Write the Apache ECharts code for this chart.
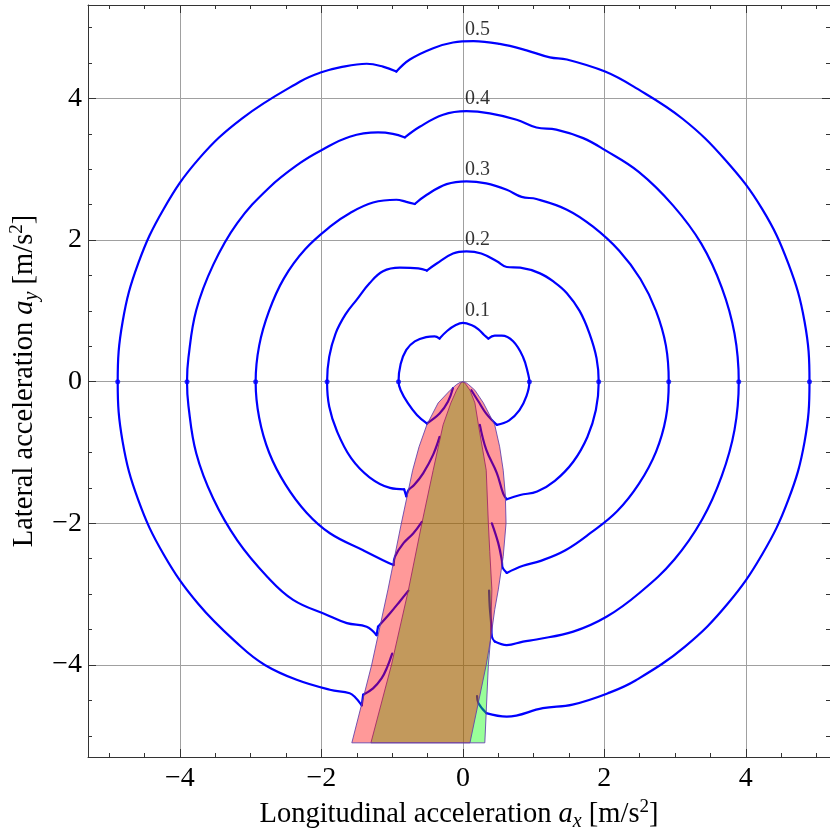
<!DOCTYPE html>
<html>
<head>
<meta charset="utf-8">
<script src="https://cdn.jsdelivr.net/npm/echarts@6/dist/echarts.min.js"></script>
<style>
  html, body { margin: 0; padding: 0; background: #fff; }
  #chart { width: 830px; height: 834px; }
</style>
</head>
<body>
<div id="chart"></div>
<script>
// Axis extents and tick values (m/s^2)
const X_RANGE = [-5.30, 5.19];
const Y_RANGE = [-5.30, 5.32];
const MAJOR_TICKS = [-4, -2, 0, 2, 4];
const MINOR_TICKS = [-5, -4.5, -3.5, -3, -2.5, -1.5, -1, -0.5, 0.5, 1, 1.5, 2.5, 3, 3.5, 4.5, 5];

// Contour levels and the height of each contour's top (where its label sits)
const LEVELS = [0.1, 0.2, 0.3, 0.4, 0.5];
const LEVEL_TOPS = [0.83, 1.84, 2.83, 3.82, 4.80];

// Contour polylines [a_x, a_y], from the left cone edge round to the right cone edge
const contour01 = [[-0.14,-0.09],[-0.21,-0.28],[-0.33,-0.45],[-0.51,-0.59],[-0.65,-0.47],[-0.78,-0.30],[-0.88,-0.12],[-0.91,0],[-0.88,0.25],[-0.80,0.45],[-0.68,0.57],[-0.52,0.63],[-0.40,0.64],[-0.33,0.61],[-0.22,0.72],[-0.10,0.80],[0.00,0.83],[0.12,0.80],[0.22,0.74],[0.30,0.66],[0.36,0.61],[0.45,0.65],[0.55,0.65],[0.71,0.57],[0.85,0.35],[0.92,0.12],[0.94,0],[0.90,-0.20],[0.80,-0.40],[0.65,-0.55],[0.48,-0.61],[0.33,-0.45],[0.22,-0.28],[0.12,-0.12]];

const contour02 = [[-0.33,-0.78],[-0.42,-1.03],[-0.56,-1.29],[-0.69,-1.46],[-0.77,-1.53],[-0.80,-1.62],[-0.83,-1.52],[-1.03,-1.50],[-1.32,-1.35],[-1.58,-1.08],[-1.78,-0.70],[-1.89,-0.35],[-1.92,0],[-1.89,0.35],[-1.80,0.68],[-1.66,0.95],[-1.50,1.16],[-1.32,1.39],[-1.13,1.56],[-0.89,1.61],[-0.63,1.60],[-0.51,1.57],[-0.37,1.67],[-0.14,1.81],[0.05,1.84],[0.26,1.81],[0.48,1.70],[0.62,1.62],[0.81,1.61],[1.09,1.53],[1.30,1.40],[1.47,1.25],[1.65,1.00],[1.79,0.68],[1.89,0.33],[1.92,0],[1.88,-0.40],[1.76,-0.78],[1.56,-1.13],[1.30,-1.40],[1.05,-1.55],[0.81,-1.60],[0.62,-1.66],[0.57,-1.58],[0.48,-1.29],[0.33,-0.96],[0.24,-0.61]];

const contour03 = [[-0.58,-1.98],[-0.70,-2.14],[-0.84,-2.28],[-0.96,-2.47],[-0.98,-2.59],[-1.13,-2.52],[-1.41,-2.38],[-1.88,-2.14],[-2.21,-1.85],[-2.51,-1.45],[-2.74,-1.00],[-2.88,-0.51],[-2.93,0],[-2.88,0.51],[-2.74,1.00],[-2.53,1.46],[-2.23,1.87],[-1.85,2.21],[-1.60,2.38],[-1.27,2.53],[-0.94,2.57],[-0.80,2.54],[-0.68,2.51],[-0.51,2.64],[-0.23,2.79],[0.05,2.83],[0.33,2.80],[0.62,2.71],[0.83,2.61],[1.04,2.58],[1.47,2.43],[1.84,2.19],[2.21,1.85],[2.51,1.45],[2.73,1.00],[2.87,0.51],[2.91,0],[2.87,-0.51],[2.73,-0.99],[2.49,-1.44],[2.18,-1.83],[1.80,-2.14],[1.45,-2.38],[1.10,-2.53],[0.85,-2.60],[0.62,-2.70],[0.56,-2.62],[0.55,-2.52],[0.50,-2.28],[0.41,-2.00]];

const contour04 = [[-0.77,-2.95],[-0.89,-3.10],[-1.03,-3.27],[-1.20,-3.46],[-1.22,-3.58],[-1.36,-3.46],[-1.64,-3.41],[-1.93,-3.29],[-2.40,-3.08],[-2.76,-2.76],[-3.19,-2.24],[-3.53,-1.65],[-3.77,-1.01],[-3.88,-0.34],[-3.90,0],[-3.88,0.34],[-3.77,1.01],[-3.53,1.65],[-3.19,2.24],[-2.74,2.74],[-2.30,3.09],[-2.00,3.27],[-1.60,3.46],[-1.20,3.52],[-0.99,3.50],[-0.82,3.45],[-0.61,3.60],[-0.28,3.77],[0.05,3.82],[0.38,3.79],[0.76,3.70],[1.04,3.59],[1.32,3.56],[1.70,3.44],[2.01,3.27],[2.49,2.96],[2.97,2.49],[3.37,1.95],[3.66,1.33],[3.84,0.68],[3.90,0],[3.84,-0.68],[3.66,-1.33],[3.38,-1.95],[2.99,-2.51],[2.50,-2.98],[2.03,-3.32],[1.56,-3.53],[1.04,-3.64],[0.85,-3.67],[0.62,-3.72],[0.45,-3.67],[0.41,-3.60],[0.40,-3.42],[0.38,-3.18],[0.37,-2.95]];

const contour05 = [[-1.00,-3.84],[-1.07,-4.03],[-1.15,-4.19],[-1.27,-4.33],[-1.41,-4.42],[-1.43,-4.57],[-1.53,-4.45],[-1.60,-4.40],[-1.88,-4.35],[-2.35,-4.21],[-2.80,-4.00],[-3.14,-3.74],[-3.74,-3.14],[-4.23,-2.44],[-4.59,-1.67],[-4.81,-0.85],[-4.88,0],[-4.81,0.85],[-4.59,1.67],[-4.23,2.44],[-3.74,3.14],[-3.12,3.72],[-2.30,4.24],[-2.00,4.37],[-1.74,4.44],[-1.36,4.49],[-1.13,4.45],[-0.94,4.38],[-0.75,4.55],[-0.42,4.71],[-0.14,4.79],[0.15,4.81],[0.52,4.77],[0.90,4.68],[1.23,4.58],[1.47,4.55],[2.01,4.38],[2.41,4.17],[3.11,3.71],[3.72,3.12],[4.23,2.44],[4.60,1.67],[4.83,0.85],[4.90,0],[4.83,-0.85],[4.60,-1.67],[4.23,-2.44],[3.74,-3.14],[3.14,-3.74],[2.44,-4.22],[2.05,-4.40],[1.55,-4.56],[1.13,-4.61],[0.62,-4.73],[0.33,-4.68],[0.22,-4.54],[0.20,-4.44]];

const CONTOURS = [contour01, contour02, contour03, contour04, contour05];

// Points where each contour crosses a_y = 0
const crossings = [[-0.91,0],[-1.92,0],[-2.93,0],[-3.90,0],[-4.88,0],[0.94,0],[1.92,0],[2.91,0],[3.90,0],[4.90,0]];

// Outer (red) and inner (green) regions
const redRegion = [[0,0],[-0.04,-0.01],[-0.09,-0.04],[-0.18,-0.12],[-0.35,-0.30],[-0.51,-0.61],[-0.62,-0.92],[-0.71,-1.25],[-0.87,-2.00],[-1.06,-2.94],[-1.29,-4.00],[-1.57,-5.10],[0.10,-5.10],[0.33,-4.00],[0.39,-3.65],[0.45,-3.22],[0.50,-2.94],[0.57,-2.47],[0.61,-2.00],[0.60,-1.60],[0.57,-1.25],[0.52,-0.92],[0.45,-0.61],[0.29,-0.30],[0.17,-0.12],[0.08,-0.04],[0.04,-0.01]];

const greenRegion = [[0,0],[-0.03,-0.02],[-0.09,-0.12],[-0.17,-0.30],[-0.28,-0.61],[-0.42,-1.25],[-0.58,-2.00],[-0.77,-2.94],[-1.01,-4.00],[-1.30,-5.10],[0.31,-5.10],[0.36,-4.00],[0.39,-3.65],[0.41,-2.94],[0.38,-2.40],[0.36,-2.00],[0.33,-1.25],[0.22,-0.61],[0.17,-0.30],[0.10,-0.12],[0.03,-0.02]];

const SERIF = '"Liberation Serif", "DejaVu Serif", serif';
const FRAME = '#333333';
const GRID_COLOR = '#a0a0a0';

const fmtTick = v => (v < 0 ? '\u2212' + Math.abs(v) : String(v));

// Split a polyline at its sharp corners so each piece can be drawn smoothed
// while the corners themselves stay crisp.
function splitAtCorners(pts, maxTurnDeg) {
  const pieces = [];
  let start = 0;
  for (let i = 1; i < pts.length - 1; i++) {
    const a1 = Math.atan2(pts[i][1] - pts[i - 1][1], pts[i][0] - pts[i - 1][0]);
    const a2 = Math.atan2(pts[i + 1][1] - pts[i][1], pts[i + 1][0] - pts[i][0]);
    let d = Math.abs(a2 - a1) * 180 / Math.PI;
    if (d > 180) d = 360 - d;
    if (d > maxTurnDeg) {
      pieces.push(pts.slice(start, i + 1));
      start = i;
    }
  }
  pieces.push(pts.slice(start));
  return pieces;
}

const nameRich = {
  t: { fontFamily: SERIF, fontSize: 28.5, color: '#000', lineHeight: 34 },
  i: { fontFamily: SERIF, fontSize: 28.5, fontStyle: 'italic', color: '#000', lineHeight: 34 },
  sb: { fontFamily: SERIF, fontSize: 20, fontStyle: 'italic', color: '#000', verticalAlign: 'bottom', lineHeight: 23 },
  sp: { fontFamily: SERIF, fontSize: 19, color: '#000', verticalAlign: 'top', lineHeight: 21 }
};

function frameAxis(opts) {
  return Object.assign({
    type: 'value',
    axisLine: { show: true, onZero: false, lineStyle: { color: FRAME, width: 1 } },
    axisTick: { show: true, inside: true, length: 8, customValues: MAJOR_TICKS, lineStyle: { color: FRAME, width: 1 } },
    axisLabel: { show: false },
    splitLine: { show: false }
  }, opts);
}

function minorAxis(opts) {
  return Object.assign({
    type: 'value',
    axisLine: { show: false, onZero: false },
    axisTick: { show: true, inside: true, length: 4, customValues: MINOR_TICKS, lineStyle: { color: FRAME, width: 1 } },
    axisLabel: { show: false },
    splitLine: { show: false }
  }, opts);
}

function regionSeries(points, fill, z) {
  return {
    type: 'custom',
    xAxisIndex: 0, yAxisIndex: 0,
    z: z,
    silent: true,
    data: points,
    encode: { x: 0, y: 1 },
    renderItem: function (params, api) {
      if (params.dataIndex !== 0) return;
      const pts = points.map(p => api.coord(p));
      return {
        type: 'polygon',
        shape: { points: pts },
        style: { fill: fill, stroke: 'rgba(95,60,170,0.85)', lineWidth: 1 }
      };
    }
  };
}

const contourSeries = [];
CONTOURS.forEach(c => {
  splitAtCorners(c, 32).forEach(piece => {
    contourSeries.push({
      type: 'line',
      xAxisIndex: 0, yAxisIndex: 0,
      data: piece,
      showSymbol: false,
      symbol: 'none',
      smooth: 0.4,
      silent: true,
      z: 2,
      lineStyle: { color: '#0000ff', width: 2.2, cap: 'round', join: 'round' }
    });
  });
});

const gridRect = { left: 88, right: 0, top: 5, bottom: 77, containLabel: false, outerBoundsMode: 'none' };

const option = {
  animation: false,
  backgroundColor: '#ffffff',
  grid: [Object.assign({}, gridRect), Object.assign({}, gridRect)],
  xAxis: [
    frameAxis({
      gridIndex: 0, position: 'bottom', min: X_RANGE[0], max: X_RANGE[1],
      axisLabel: { show: true, customValues: MAJOR_TICKS, formatter: fmtTick, fontFamily: SERIF, fontSize: 28, color: '#000', margin: 8 },
      splitLine: { show: true, lineStyle: { color: GRID_COLOR, width: 1 } },
      name: '{t|Longitudinal acceleration }{i|a}{sb|x}{t| [m/s}{sp|2}{t|]}',
      nameLocation: 'middle', nameGap: 40,
      nameTextStyle: { fontFamily: SERIF, fontSize: 28.5, color: '#000', rich: nameRich }
    }),
    frameAxis({ gridIndex: 0, position: 'top', min: X_RANGE[0], max: X_RANGE[1] }),
    minorAxis({ gridIndex: 1, position: 'bottom', min: X_RANGE[0], max: X_RANGE[1] }),
    minorAxis({ gridIndex: 1, position: 'top', min: X_RANGE[0], max: X_RANGE[1] })
  ],
  yAxis: [
    frameAxis({
      gridIndex: 0, position: 'left', min: Y_RANGE[0], max: Y_RANGE[1],
      axisLabel: { show: true, customValues: MAJOR_TICKS, formatter: fmtTick, fontFamily: SERIF, fontSize: 28, color: '#000', margin: 6 },
      splitLine: { show: true, lineStyle: { color: GRID_COLOR, width: 1 } },
      name: '{t|Lateral acceleration }{i|a}{sb|y}{t| [m/s}{sp|2}{t|]}',
      nameLocation: 'middle', nameGap: 45, nameRotate: 90,
      nameTextStyle: { fontFamily: SERIF, fontSize: 28.5, color: '#000', rich: nameRich }
    }),
    frameAxis({ gridIndex: 0, position: 'right', min: Y_RANGE[0], max: Y_RANGE[1] }),
    minorAxis({ gridIndex: 1, position: 'left', min: Y_RANGE[0], max: Y_RANGE[1] }),
    minorAxis({ gridIndex: 1, position: 'right', min: Y_RANGE[0], max: Y_RANGE[1] })
  ],
  series: [].concat(
    contourSeries,
    [{
      type: 'scatter',
      xAxisIndex: 0, yAxisIndex: 0,
      data: crossings,
      symbol: 'circle',
      symbolSize: 5,
      silent: true,
      z: 3,
      itemStyle: { color: '#0000ff' }
    }],
    [regionSeries(greenRegion, 'rgba(0,255,0,0.4)', 4)],
    [regionSeries(redRegion, 'rgba(255,0,0,0.4)', 5)],
    [{
      type: 'scatter',
      xAxisIndex: 0, yAxisIndex: 0,
      data: LEVELS.map((lv, i) => [0, LEVEL_TOPS[i], lv]),
      symbolSize: 0,
      silent: true,
      z: 6,
      label: {
        show: true,
        position: 'right',
        distance: 2,
        offset: [0, -12],
        formatter: p => p.value[2].toFixed(1),
        fontFamily: SERIF,
        fontSize: 20,
        color: '#000'
      }
    }]
  )
};

const chart = echarts.init(document.getElementById('chart'), null, { renderer: 'canvas' });
chart.setOption(option);
</script>
</body>
</html>
